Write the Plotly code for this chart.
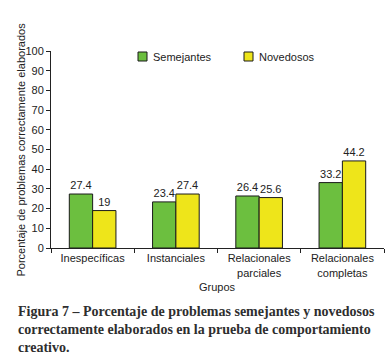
import plotly.graph_objects as go

categories = ["Inespecíficas", "Instanciales", "Relacionales<br>parciales", "Relacionales<br>completas"]
semejantes = [27.4, 23.4, 26.4, 33.2]
novedosos = [19, 27.4, 25.6, 44.2]
sem_labels = ["27.4", "23.4", "26.4", "33.2"]
nov_labels = ["19", "27.4", "25.6", "44.2"]
y_ticks = [0, 10, 20, 30, 40, 50, 60, 70, 80, 90, 100]
series_names = ["Semejantes", "Novedosos"]

font_sans = "Liberation Sans, Arial, sans-serif"
green = "#6cbf3f"
yellow = "#eee51a"
edge = "#1a1a1a"

L, R, T, B = 51, 8, 51, 109
W, H = 392, 357
PW, PH = W - L - R, H - T - B


def px_x(x):
    return (x - L) / PW


def px_y(y):
    return (H - B - y) / PH


fig = go.Figure()
fig.add_trace(go.Bar(
    name=series_names[0], x=categories, y=semejantes,
    marker=dict(color=green, line=dict(color=edge, width=1)),
    text=sem_labels, textposition="outside", cliponaxis=False,
    textfont=dict(family=font_sans, size=11, color="#222"),
))
fig.add_trace(go.Bar(
    name=series_names[1], x=categories, y=novedosos,
    marker=dict(color=yellow, line=dict(color=edge, width=1)),
    text=nov_labels, textposition="outside", cliponaxis=False,
    textfont=dict(family=font_sans, size=11, color="#222"),
))

annotations = []
shapes = []

# manual legend
legend_items = [(series_names[0], green, 138), (series_names[1], yellow, 244)]
for name, col, x0 in legend_items:
    shapes.append(dict(type="rect", xref="paper", yref="paper",
                       x0=px_x(x0), x1=px_x(x0 + 9), y0=px_y(61), y1=px_y(52),
                       fillcolor=col, line=dict(color=edge, width=1)))
    annotations.append(dict(text=name, xref="paper", yref="paper",
                            x=px_x(x0 + 13), y=px_y(56.5), xanchor="left", yanchor="middle",
                            showarrow=False, font=dict(family=font_sans, size=11, color="#222")))

caption = [
    "Figura 7 – Porcentaje de problemas semejantes y novedosos",
    "correctamente elaborados en la prueba de comportamiento",
    "creativo.",
]
for i, line in enumerate(caption):
    annotations.append(dict(
        text=line, xref="paper", yref="paper", x=px_x(16), y=px_y(311 + 18 * i),
        xanchor="left", yanchor="middle", showarrow=False,
        font=dict(family="Liberation Serif, serif", size=14, color="#2e2e2e", weight="bold"),
    ))

annotations.append(dict(text="Grupos", xref="paper", yref="paper", x=0.5, y=px_y(287),
                        xanchor="center", yanchor="middle", showarrow=False,
                        font=dict(family=font_sans, size=11, color="#222")))
annotations.append(dict(text="Porcentaje de problemas correctamente elaborados",
                        xref="paper", yref="paper", x=px_x(20), y=0.5, textangle=-90,
                        xanchor="center", yanchor="middle", showarrow=False,
                        font=dict(family=font_sans, size=11, color="#222")))

fig.update_layout(
    width=W, height=H,
    margin=dict(l=L, r=R, t=T, b=B),
    paper_bgcolor="white", plot_bgcolor="white",
    barmode="group", bargap=0.44, bargroupgap=0,
    font=dict(family=font_sans, size=11, color="#222"),
    showlegend=False,
    annotations=annotations,
    shapes=shapes,
    xaxis=dict(
        showline=True, linecolor="#222", linewidth=1,
        ticks="outside", tickson="boundaries", ticklen=4, tickcolor="#222",
        showgrid=False, automargin=False,
        tickfont=dict(size=11),
    ),
    yaxis=dict(
        range=[0, 100], tickvals=y_ticks, showline=True, linecolor="#222", linewidth=1,
        ticks="outside", ticklen=4, tickcolor="#222", showgrid=False, zeroline=False,
        automargin=False, tickfont=dict(size=11),
    ),
)

fig.write_html("out.html", config={"displayModeBar": False},
               post_script="document.body.style.margin='0';document.body.style.overflow='hidden';")
